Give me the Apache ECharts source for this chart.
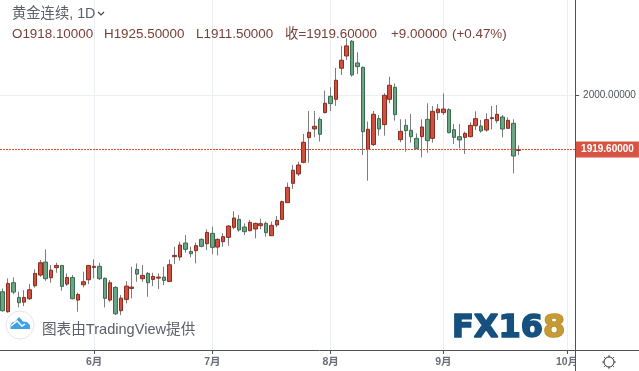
<!DOCTYPE html>
<html><head><meta charset="utf-8">
<style>html,body{margin:0;padding:0;background:#fff}#c{width:639px;height:371px}</style>
<script src="https://cdn.jsdelivr.net/npm/echarts@6/dist/echarts.min.js"></script>
</head><body><div id="c"></div>
<script>
const openPrices=[1709.9,1680.4,1723.2,1701.5,1694.6,1699.6,1718.7,1734.5,1753.6,1730.5,1745.3,1748.7,1721.2,1731.0,1697.6,1720.2,1727.6,1745.8,1747.3,1729.6,1697.6,1716.3,1681.9,1698.6,1714.8,1742.8,1729.1,1736.9,1728.1,1730.0,1731.5,1725.1,1761.6,1761.1,1781.7,1769.4,1770.4,1787.1,1780.7,1796.0,1775.8,1783.7,1790.1,1804.8,1816.6,1805.3,1799.9,1802.4,1807.3,1810.7,1792.5,1808.3,1816.6,1841.2,1869.7,1883.5,1900.7,1937.1,1949.9,1964.1,1973.9,1998.0,1993.6,2039.4,2057.5,2079.2,2047.2,2040.8,1920.4,1926.8,1965.1,1956.3,1993.6,2011.3,1934.1,1955.2,1947.9,1936.0,1938.5,1964.1,1936.0,1973.9,1973.9,1978.3,1948.8,1938.5,1937.5,1938.5,1954.7,1954.2,1948.3,1965.1,1962.1,1967.5,1950.8,1958.2,1918.1];
const closePrices=[1681.9,1722.2,1709.4,1693.7,1701.5,1712.8,1736.9,1752.7,1729.1,1741.8,1748.7,1717.8,1731.0,1699.6,1705.9,1724.6,1748.7,1747.3,1729.1,1700.1,1723.2,1677.4,1700.5,1718.2,1716.8,1735.9,1734.0,1723.2,1732.5,1731.5,1726.6,1749.7,1763.5,1778.8,1772.4,1766.0,1777.8,1776.8,1797.4,1775.3,1787.1,1791.1,1806.8,1818.6,1800.9,1798.4,1812.2,1810.7,1810.2,1796.9,1807.8,1815.1,1842.7,1863.8,1888.9,1896.8,1930.2,1944.9,1953.8,1942.0,1987.7,1987.2,2021.7,2051.2,2072.3,2029.5,2041.8,1945.9,1949.4,1971.5,1949.9,1999.5,2014.3,1971.0,1946.4,1947.4,1938.5,1921.3,1952.8,1932.6,1975.9,1979.3,1979.3,1944.4,1937.5,1933.6,1943.4,1955.2,1965.1,1946.9,1963.6,1966.5,1971.5,1949.8,1962.6,1910.0,1919.6];
const highPrices=[1714.8,1729.6,1731.0,1709.9,1712.3,1721.2,1742.8,1756.6,1772.3,1749.2,1752.7,1749.2,1736.9,1734.5,1708.4,1739.4,1749.2,1757.6,1752.7,1731.0,1727.1,1718.2,1705.0,1725.6,1746.8,1751.7,1749.2,1738.9,1737.9,1736.9,1746.8,1757.6,1776.3,1783.7,1793.5,1776.3,1782.2,1788.6,1801.9,1805.8,1788.6,1796.0,1808.3,1828.4,1823.0,1810.7,1815.6,1811.7,1817.6,1813.2,1813.2,1821.5,1844.2,1870.7,1896.8,1901.7,1942.5,1976.4,1976.4,1967.1,2006.4,2011.3,2039.8,2072.3,2083.6,2081.1,2062.9,2041.8,1960.7,1976.4,1970.5,2002.5,2027.1,2017.2,1964.1,1964.1,1972.0,1943.4,1964.1,1987.7,1983.7,1986.7,2002.4,1980.3,1957.2,1957.2,1945.9,1959.7,1975.9,1963.1,1972.9,1983.7,1985.2,1970.5,1967.0,1964.1,1925.5];
const lowPrices=[1680.4,1678.9,1706.4,1686.8,1688.7,1697.6,1715.8,1732.0,1726.1,1723.2,1737.9,1711.4,1718.2,1698.6,1680.4,1716.3,1721.2,1729.6,1727.1,1686.8,1695.1,1675.5,1675.5,1692.7,1700.1,1724.6,1724.6,1702.5,1718.2,1713.8,1719.7,1724.6,1750.7,1755.6,1767.5,1760.6,1751.7,1775.3,1771.4,1765.0,1763.5,1776.3,1777.8,1801.9,1798.4,1793.5,1798.9,1788.6,1801.9,1791.1,1792.0,1804.8,1815.6,1841.2,1861.4,1880.5,1899.2,1900.2,1937.6,1931.2,1973.0,1976.4,1983.8,2029.5,2051.6,2027.1,2031.0,1911.5,1873.6,1924.8,1940.0,1940.0,1987.7,1962.2,1930.2,1916.4,1929.7,1919.8,1908.0,1914.9,1929.7,1963.1,1970.5,1943.4,1927.7,1921.3,1913.0,1937.5,1948.3,1944.4,1945.9,1949.3,1958.2,1937.5,1950.3,1884.4,1911.5];
const monthIndex=[17,39,61,82,105];
const monthLabels=['6月','7月','8月','9月','10月'];
const slotCount=107;
const priceTicks=[2000];
const lastPrice=1919.6;
const titleText='黄金连续, 1D';
const ohlcTexts=['O1918.10000','H1925.50000','L1911.50000','收=1919.60000','+9.00000','(+0.47%)'];
const credit='图表由TradingView提供';

const categories=Array.from({length:slotCount},(_,i)=>{const k=monthIndex.indexOf(i);return k>=0?monthLabels[k]:''});
const full=openPrices.map((o,i)=>[o,closePrices[i],lowPrices[i],highPrices[i]]);
const bodies=openPrices.map((o,i)=>[o,closePrices[i],Math.min(o,closePrices[i]),Math.max(o,closePrices[i])]);
const isMonth=(i,v)=>v!=='';
const sans='"Liberation Sans","Noto Sans CJK SC",sans-serif';
const textCol='#7a4038';
const txt=(x,y,t,size,fill,extra)=>({type:'text',x,y,z:50,silent:true,style:Object.assign({text:t,fill,font:size+'px '+sans,textVerticalAlign:'middle'},extra||{})});

const gearTicks=[];for(let a=0;a<8;a++){const c=Math.cos(a*Math.PI/4),s=Math.sin(a*Math.PI/4);gearTicks.push({type:'line',z:50,silent:true,x:609,y:362,shape:{x1:5*c,y1:5*s,x2:6.8*c,y2:6.8*s},style:{stroke:'#333',lineWidth:1}});}

const chart=echarts.init(document.getElementById('c'),null,{renderer:'canvas'});
chart.setOption({
 animation:false,backgroundColor:'#fff',
 grid:{left:-2.7,top:0,width:577.8,height:350,containLabel:false},
 tooltip:{show:false},
 xAxis:{type:'category',data:categories,boundaryGap:true,
  axisLine:{show:false},
  axisTick:{show:true,alignWithLabel:true,interval:isMonth,length:4,lineStyle:{color:'#50535e'}},
  axisLabel:{show:true,interval:isMonth,hideOverlap:false,margin:7,fontSize:10.5,fontWeight:'bold',color:'#6a6d78',fontFamily:sans},
  splitLine:{show:true,alignWithLabel:true,interval:isMonth,lineStyle:{color:'#eaeff3',width:1}}},
 yAxis:{type:'value',position:'right',min:1624,max:2140,scale:true,
  axisLine:{show:true,lineStyle:{color:'#50535e'}},
  axisTick:{show:true,customValues:priceTicks,length:4,lineStyle:{color:'#50535e'}},
  axisLabel:{show:true,customValues:priceTicks,margin:8,fontSize:10,color:'#4c525e',fontFamily:sans,formatter:v=>v.toFixed(5)},
  splitLine:{show:true,lineStyle:{color:'#eaeff3',width:1}}},
 series:[
  {type:'candlestick',name:'wick',data:full,barWidth:1,silent:true,z:2,
   itemStyle:{color:'#8a8a8c',color0:'#8a8a8c',borderColor:'#7d7d80',borderColor0:'#7d7d80',borderWidth:1}},
  {type:'candlestick',name:'黄金连续',data:bodies,barWidth:4,silent:true,z:3,
   itemStyle:{color:'#d0503f',color0:'#6ba583',borderColor:'#8a2c20',borderColor0:'#3a6c50',borderWidth:1}},
  {type:'line',name:'last',data:[],silent:true,z:4,showSymbol:false,
   itemStyle:{color:'#e04a35'},lineStyle:{color:'#e04a35'},
   markLine:{silent:true,symbol:'none',animation:false,z:5,
    lineStyle:{color:'#e04a35',type:[2,1],width:1,opacity:1},
    label:{show:true,position:'end',distance:0,formatter:()=>lastPrice.toFixed(5),color:'#fff',fontSize:10,fontWeight:'bold',fontFamily:sans,backgroundColor:'#d75442',padding:[3,5,3,6]},
    data:[{yAxis:lastPrice}]}}
 ],
 graphic:[
  {type:'rect',z:40,silent:true,shape:{x:576,y:351,width:63,height:20},style:{fill:'#fff'}},
  {type:'line',z:41,silent:true,shape:{x1:0,y1:350.5,x2:639,y2:350.5},style:{stroke:'#50535e',lineWidth:1}},
  {type:'line',z:41,silent:true,shape:{x1:575.5,y1:0,x2:575.5,y2:371},style:{stroke:'#50535e',lineWidth:1}},
  txt(12,14,titleText,14.3,'#5b606a'),
  {type:'polyline',z:50,silent:true,shape:{points:[[98,12],[101,15],[104,12]]},style:{stroke:'#444',fill:'none',lineWidth:1.2}},
  txt(12,34,ohlcTexts[0],13.4,textCol),
  txt(104,34,ohlcTexts[1],13.4,textCol),
  txt(196,34,ohlcTexts[2],13.4,textCol),
  txt(285,34,ohlcTexts[3],13.4,textCol),
  txt(391,34,ohlcTexts[4],13.4,textCol),
  txt(452,34,ohlcTexts[5],13.4,textCol),
  {type:'circle',z:45,silent:true,shape:{cx:20,cy:325,r:14},style:{fill:'#fff',stroke:'#e6e6e6',lineWidth:1}},
  {type:'polygon',z:46,silent:true,shape:{points:[[10.5,329],[10.5,325],[12,322.5],[15,321.5],[19,317],[23,321.5],[27,322],[30,325],[30,329]]},style:{fill:'#3fa2e8'}},
  {type:'polyline',z:47,silent:true,shape:{points:[[11,326],[17,321],[22,326],[25,324]]},style:{stroke:'#fff',fill:'none',lineWidth:1.4}},
  txt(42,330,credit,14.6,'#5b6068'),
  {type:'text',z:50,silent:true,x:452,y:329,style:{text:'FX16',fill:'#15507e',stroke:'#15507e',lineWidth:1.6,font:'bold 32px "DejaVu Sans"',textVerticalAlign:'middle'}},
  {type:'text',z:50,silent:true,x:543,y:329,style:{text:'8',fill:'#c69a35',stroke:'#b98c2a',lineWidth:1.6,font:'bold 32px "DejaVu Sans"',textVerticalAlign:'middle'}},
  {type:'circle',z:50,silent:true,shape:{cx:609,cy:362,r:5},style:{fill:'none',stroke:'#333',lineWidth:1}}
 ].concat(gearTicks)
});
</script></body></html>
